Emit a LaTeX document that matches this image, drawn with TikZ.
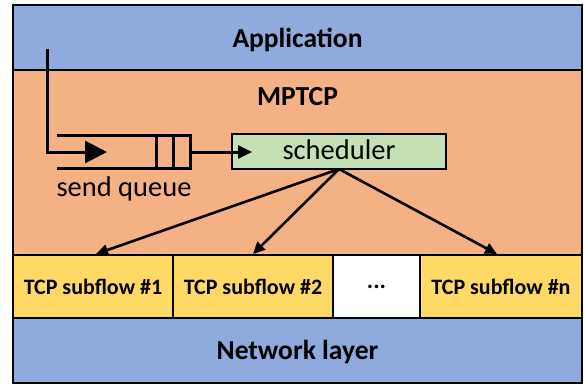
\documentclass[tikz,border=0pt]{standalone}
\usepackage{fontspec}
\setmainfont{Carlito}
\usetikzlibrary{arrows.meta}
\definecolor{appblue}{HTML}{8FAADC}
\definecolor{mporange}{HTML}{F4B183}
\definecolor{schedgreen}{HTML}{C5E0B4}
\definecolor{sfyellow}{HTML}{FFD966}
\begin{document}
\begin{tikzpicture}[x=1pt,y=-1pt,
  band/.style={draw=black,line width=2.2pt,rectangle,inner sep=0pt,outer sep=0pt,anchor=center},
  bigtext/.style={font=\fontsize{27.5}{32}\selectfont\bfseries},
  sftext/.style={font=\fontsize{22}{26}\selectfont\bfseries},
  plaintext/.style={font=\fontsize{28.5}{33}\selectfont},
  arr/.style={line width=2.6pt,-{Triangle[length=12pt,width=11pt]}}]
\useasboundingbox (0,0) rectangle (585,386);
% bands
\node[band,fill=appblue,minimum width=569pt,minimum height=65pt] (app) at (297.5,37.5) {};
\node[bigtext] (apptxt) at (297.5,40) {Application};
\node[band,fill=mporange,minimum width=569pt,minimum height=185pt] (mptcp) at (297.5,162.5) {};
\node[bigtext] (mptxt) at (297.5,97) {MPTCP};
\node[band,fill=appblue,minimum width=569pt,minimum height=65pt] (net) at (297.5,350.5) {};
\node[bigtext] (nettxt) at (297.5,352) {Network layer};
% subflows
\node[band,fill=sfyellow,minimum width=160pt,minimum height=63pt,sftext] (sf1) at (93,286.5) {TCP subflow \#1};
\node[band,fill=sfyellow,minimum width=160pt,minimum height=63pt,sftext] (sf2) at (253,286.5) {TCP subflow \#2};
\node[band,fill=white,minimum width=87pt,minimum height=63pt,font=\fontsize{24}{28}\selectfont\bfseries] (dots) at (376.5,286.5) {...};
\node[band,fill=sfyellow,minimum width=162pt,minimum height=63pt,sftext] (sfn) at (501,286.5) {TCP subflow \#n};
% scheduler
\node[band,fill=schedgreen,minimum width=214pt,minimum height=35pt] (sched) at (339,151.5) {};
\node[plaintext] (schedtxt) at (339,150) {scheduler};
% send queue
\coordinate (qtl) at (57,135);
\coordinate (qtr) at (190,135);
\coordinate (qbl) at (57,168);
\coordinate (qbr) at (190,168);
\coordinate (qmid) at (190,152);
\draw[line width=3pt] (qtl) -- (qtr) -- (qbr) -- (qbl);
\draw[line width=3pt] (156,135) -- (156,168);
\draw[line width=3pt] (173,135) -- (173,168);
\node[plaintext] (sqtxt) at (124,189) {send queue};
% input
\coordinate (in0) at (47,49);
\coordinate (in1) at (47,152);
\coordinate (in2) at (107,152);
\draw[line width=3pt,-{Triangle[length=22pt,width=22pt]}] (in0) -- (in1) -- (in2);
% queue -> scheduler
\coordinate (stip) at (252,152);
\draw[line width=3pt,-{Triangle[length=14pt,width=13pt]}] (qmid) -- (stip);
% scheduler -> subflows
\coordinate (sb) at (339,169);
\coordinate (t1) at (96,254);
\coordinate (t2) at (253,254);
\coordinate (tn) at (497,254);
\draw[arr] (sb) -- (t1);
\draw[arr] (sb) -- (t2);
\draw[arr] (sb) -- (tn);
\end{tikzpicture}
\end{document}
